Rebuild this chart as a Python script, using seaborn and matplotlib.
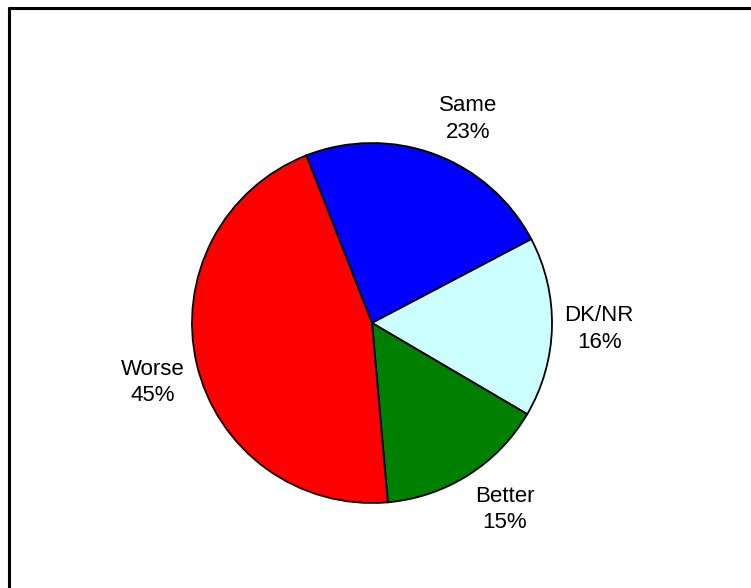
import matplotlib
matplotlib.use("Agg")
import numpy as np
import matplotlib.pyplot as plt
from matplotlib.lines import Line2D
import seaborn as sns

categories = ["Same", "DK/NR", "Better", "Worse"]
values = [23, 16, 15, 45]
colors = ["#0000FF", "#CCFFFF", "#008000", "#FF0000"]

sns.set_theme(style="white")
plt.rcParams["font.family"] = ["Liberation Sans", "DejaVu Sans"]

W, H = 751, 588
fig = plt.figure(figsize=(W / 100, H / 100), dpi=100)
fig.patch.set_facecolor("white")

cx, cy, r = 372, 323, 180
ax = fig.add_axes([(cx - r) / W, (H - cy - r) / H, 2 * r / W, 2 * r / H])
labels = [f"{c}\n{v}%" for c, v in zip(categories, values)]
wedges, texts = ax.pie(
    values,
    labels=labels,
    colors=colors,
    startangle=111.4,
    counterclock=False,
    labeldistance=1.07,
    wedgeprops=dict(edgecolor="black", linewidth=1.3),
    textprops=dict(fontsize=16, color="black"),
)
ax.set_xlim(-1, 1)
ax.set_ylim(-1, 1)
ax.set_aspect("equal")
ax.axis("off")

# Excel-like label placement: anchor point on the mid-angle ray,
# the text box attached to it by the side/corner nearest the pie.
dist, k = 1.07, 1.45
fig.canvas.draw()
renderer = fig.canvas.get_renderer()
for t, w in zip(texts, wedges):
    th = np.deg2rad((w.theta1 + w.theta2) / 2)
    c, s = np.cos(th), np.sin(th)
    t.set_multialignment("center")
    t.set_linespacing(1.32)
    t.set_clip_on(False)
    t.set_horizontalalignment("left")
    t.set_verticalalignment("bottom")
    t.set_position((dist * c, dist * s))
    bb = t.get_window_extent(renderer)
    fx = np.clip(0.5 - k * c, 0, 1)
    fy = np.clip(0.5 - k * s, 0, 1)
    px, py = ax.transData.transform((dist * c, dist * s))
    nx, ny = ax.transData.inverted().transform((px - fx * bb.width, py - fy * bb.height))
    t.set_position((nx, ny))

# frame lines (top and left visible in reference)
fig.add_artist(Line2D([8 / W, 1.0], [1 - 8 / H, 1 - 8 / H], transform=fig.transFigure,
                      color="black", linewidth=2.2, solid_capstyle="butt"))
fig.add_artist(Line2D([9 / W, 9 / W], [0.0, 1 - 7 / H], transform=fig.transFigure,
                      color="black", linewidth=2.2, solid_capstyle="butt"))

fig.savefig("out.png", dpi=100, facecolor="white")
